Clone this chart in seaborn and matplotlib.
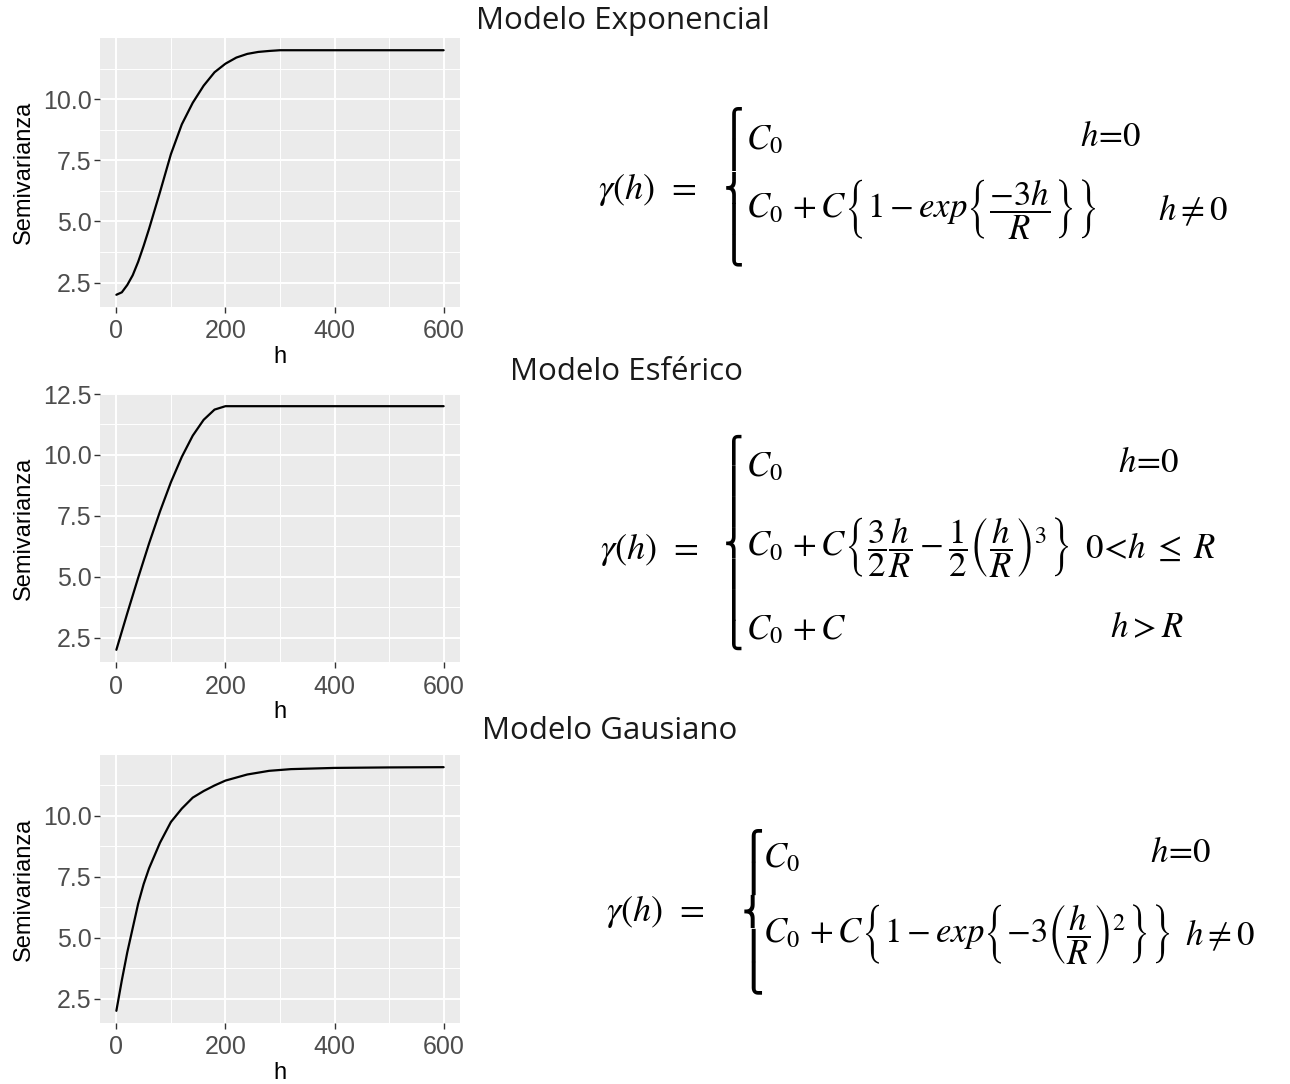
import matplotlib
matplotlib.use("Agg")
import matplotlib.pyplot as plt
import seaborn as sns
import pandas as pd
from matplotlib.font_manager import FontProperties

# ---------------- data ----------------
titles = ["Modelo Exponencial", "Modelo Esférico", "Modelo Gausiano"]

h_top = [0, 10, 20, 30, 40, 50, 60, 80, 100, 120, 140, 160, 180, 200, 220, 240, 260, 280, 300, 400, 500, 600]
g_top = [2.0, 2.1, 2.4, 2.8, 3.35, 4.0, 4.7, 6.2, 7.75, 8.97, 9.85, 10.55, 11.1, 11.45, 11.7, 11.85, 11.93, 11.97, 12.0, 12.0, 12.0, 12.0]

h_mid = [0, 20, 40, 60, 80, 100, 120, 140, 160, 180, 200, 300, 400, 500, 600]
g_mid = [2.0, 3.5, 4.96, 6.37, 7.68, 8.88, 9.92, 10.79, 11.44, 11.86, 12.0, 12.0, 12.0, 12.0, 12.0]

h_bot = [0, 10, 20, 30, 40, 50, 60, 80, 100, 120, 140, 160, 180, 200, 240, 280, 320, 400, 500, 600]
g_bot = [2.0, 3.25, 4.4, 5.4, 6.4, 7.2, 7.85, 8.9, 9.75, 10.3, 10.75, 11.02, 11.25, 11.45, 11.7, 11.85, 11.92, 11.97, 11.99, 12.0]

x_ticks = [0, 200, 400, 600]
y_ticks_a = [2.5, 5.0, 7.5, 10.0]
y_ticks_b = [2.5, 5.0, 7.5, 10.0, 12.5]
x_label = "h"
y_label = "Semivarianza"

# ---------------- style ----------------
sns.set_theme(style="darkgrid", rc={"axes.facecolor": "#EBEBEB", "grid.color": "white"})
plt.rcParams["font.family"] = ["Liberation Sans", "DejaVu Sans"]
plt.rcParams["mathtext.fontset"] = "stix"

W, H = 1290, 1084
fig = plt.figure(figsize=(W / 100, H / 100), dpi=100)
fig.patch.set_facecolor("white")


def rect(l, t, r, b):
    return [l / W, 1 - b / H, (r - l) / W, (b - t) / H]


def fx(x):
    return x / W


def fy(y):
    return 1 - y / H


panels = [
    (38, 307, h_top, g_top, y_ticks_a),
    (394, 662, h_mid, g_mid, y_ticks_b),
    (755, 1023, h_bot, g_bot, y_ticks_a),
]

for top, bot, hx, gy, yt in panels:
    ax = fig.add_axes(rect(100, top, 460, bot))
    df = pd.DataFrame({"h": hx, "g": gy})
    sns.lineplot(data=df, x="h", y="g", ax=ax, color="black", linewidth=1.6)
    ax.set_xlim(-30, 630)
    ax.set_ylim(1.5, 12.5)
    ax.set_xticks(x_ticks)
    ax.set_xticklabels([str(v) for v in x_ticks])
    ax.set_yticks(yt)
    ax.set_yticklabels([f"{v:.1f}" for v in yt])
    ax.set_xticks([100, 300, 500], minor=True)
    ax.set_yticks([3.75, 6.25, 8.75, 11.25], minor=True)
    ax.grid(which="major", color="white", linewidth=1.4)
    ax.grid(which="minor", color="white", linewidth=0.7)
    ax.tick_params(which="major", length=4, width=1, color="#333333",
                   labelsize=18, labelcolor="#4D4D4D", bottom=True, left=True)
    ax.tick_params(axis="x", which="major", pad=5)
    ax.tick_params(axis="y", which="major", pad=2)
    ax.tick_params(which="minor", length=0)
    ax.set_xlabel(x_label, fontsize=17, labelpad=2, color="black")
    ax.set_ylabel(y_label, fontsize=17, labelpad=6, color="black")
    for s in ax.spines.values():
        s.set_visible(False)

# ---------------- titles ----------------
title_pos = [(476, 21), (510, 372), (482, 731)]
for (x, y), t in zip(title_pos, titles):
    fig.text(fx(x), fy(y), t, fontsize=22.5, family=["Open Sans", "DejaVu Sans"],
             ha="left", va="center", color="#1a1a1a")

# ---------------- formulas ----------------
MFS = 25


def mt(x, y, s, fs=MFS):
    return fig.text(fx(x), fy(y), s, fontsize=fs, ha="left", va="center", color="black")


fig.canvas.draw()
renderer = fig.canvas.get_renderer()

BFAM = ["STIXGeneral", "DejaVu Sans"]


def brace(x, ytop, ybot, n_ext):
    """Left curly brace built from the Unicode brace pieces as one multi-line text."""
    s = "\n".join(["\u23A7"] + ["\u23AA"] * n_ext + ["\u23A8"] + ["\u23AA"] * n_ext + ["\u23A9"])
    fs0 = 24.0
    fp = FontProperties(family=BFAM, size=fs0, weight="bold")
    _, ph, pd_ = renderer.get_text_width_height_descent("\u23AA", fp, ismath=False)
    _, lh, ld = renderer.get_text_width_height_descent("lp", fp, ismath=False)
    D = max(pd_, ld)
    A = max(ph, lh) - D
    ls = (ph - D) / max(lh - ld, A)
    t = fig.text(0, 0, s, fontproperties=fp, linespacing=ls)
    e = t.get_window_extent(renderer)
    t.remove()
    fs = fs0 * (ybot - ytop) / e.height
    fig.text(fx(x), fy((ytop + ybot) / 2), s, fontsize=fs, family=BFAM, fontweight="bold",
             linespacing=ls, ha="left", va="center", multialignment="left", color="black")


GAMMA = r"$\gamma(h)\;\, =$"

# Formula 1 (exponential)
mt(598, 190, GAMMA, 26)
brace(724, 108, 265, 1)
mt(746, 140, r"$C_0$")
mt(1080, 136, r"$h\!=\!\mathit{0}$")
mt(746, 210, r"$C_0\, + C\left\{1 - exp\left\{\dfrac{-3h}{R}\right\}\right\}$")
mt(1158, 210, r"$h \neq 0$")

# Formula 2 (spherical)
mt(600, 550, GAMMA, 26)
brace(724, 435, 650, 2)
mt(746, 467, r"$C_0$")
mt(1118, 462, r"$h\!=\!\mathit{0}$")
mt(746, 548, r"$C_0\, + C\left\{\dfrac{3}{2}\dfrac{h}{R} - \dfrac{1}{2}\left(\dfrac{h}{R}\right)^3\right\}$")
mt(1085, 548, r"$\mathit{0}\!<\!h\;\leq\; R$")
mt(746, 630, r"$C_0\, + C$")
mt(1110, 628, r"$h > R$")

# Formula 3 (gaussian)
mt(606, 912, GAMMA, 26)
brace(742, 828, 995, 1)
mt(763, 858, r"$C_0$")
mt(1150, 852, r"$h\!=\!\mathit{0}$")
mt(763, 935, r"$C_0\, + C\left\{1 - exp\left\{-3\left(\dfrac{h}{R}\right)^2\right\}\right\}$")
mt(1185, 935, r"$h \neq 0$")

fig.savefig("out.png", dpi=100, facecolor="white")
